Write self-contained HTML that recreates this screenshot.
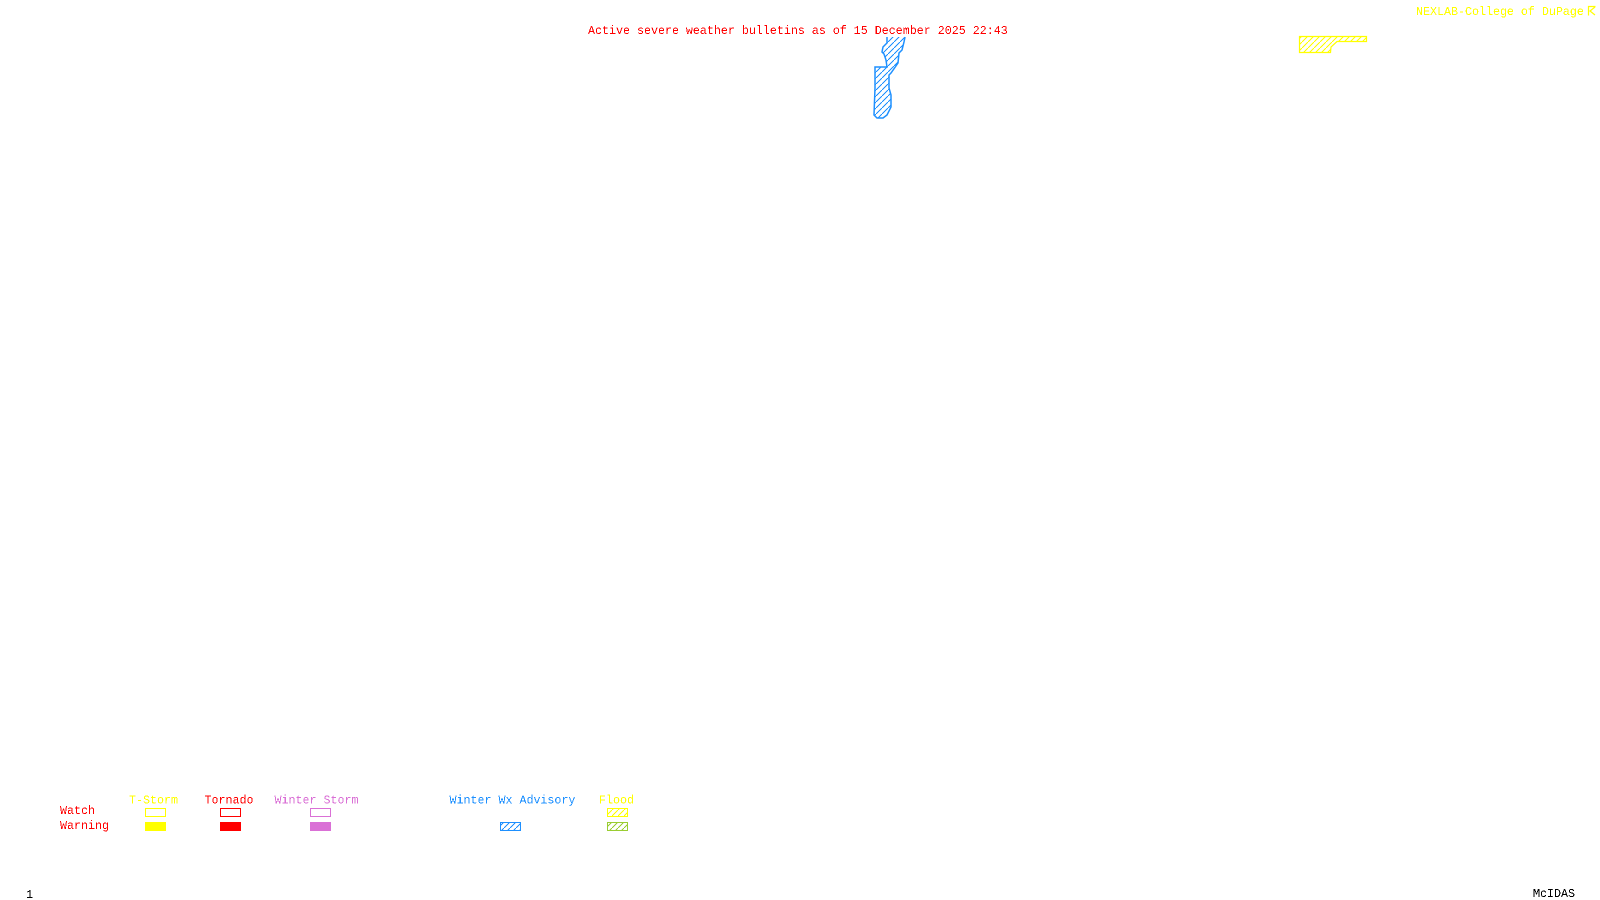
<!DOCTYPE html>
<html>
<head>
<meta charset="utf-8">
<title>Active severe weather bulletins</title>
<style>
html,body{margin:0;padding:0;background:#fff;width:1600px;height:900px;overflow:hidden}
svg{display:block}
text{font-family:"Liberation Mono",monospace;font-size:11.67px;white-space:pre}
</style>
</head>
<body>
<svg width="1600" height="900" viewBox="0 0 1600 900" xmlns="http://www.w3.org/2000/svg">
<defs>
<filter id="crisp" x="0" y="0" width="100%" height="100%" color-interpolation-filters="sRGB">
<feComponentTransfer><feFuncA type="discrete" tableValues="0 0 1 1"/></feComponentTransfer>
</filter>
<pattern id="hb" width="6" height="6" patternUnits="userSpaceOnUse"><path d="M-1,7 L7,-1" stroke="#1e90ff" stroke-width="1.1" shape-rendering="crispEdges" fill="none"/></pattern>
<pattern id="hy" width="6" height="6" patternUnits="userSpaceOnUse"><path d="M-1,7 L7,-1" stroke="#ffff00" stroke-width="1.1" shape-rendering="crispEdges" fill="none"/></pattern>
<pattern id="hg" width="6" height="6" patternUnits="userSpaceOnUse"><path d="M-1,7 L7,-1" stroke="#9acd32" stroke-width="1.1" shape-rendering="crispEdges" fill="none"/></pattern>
</defs>
<rect width="1600" height="900" fill="#fff"/>

<!-- Blue advisory polygon -->
<polygon points="887,37 905,37 904,42 902,50 899,53 898,63 891,73 889,75 889,88 891,95 891,107 887,115 883,118 877,118 874,115 875,88 875,67 887,67 886,60 884,54 882,52 883,47 887,43" fill="url(#hb)"/>
<polyline points="887,37 887,43 883,47 882,52 884,54 886,60 887,67 875,67 875,88 874,115 877,118 883,118 887,115 891,107 891,95 889,88 889,75 891,73 898,63 899,53 902,50 904,42 905,37" fill="none" stroke="#1e90ff" stroke-width="1.5"/>

<!-- Yellow flood polygon -->
<polygon points="1299.5,36.5 1366.5,36.5 1366.5,41.5 1337,41.5 1331,47 1330.5,52.5 1299.5,52.5" fill="url(#hy)" stroke="#ffff00" stroke-width="1.2"/>

<!-- Corner logo glyph -->
<path d="M1588.5,15.5 V6.5 H1595.5 M1595,7 L1590,11 L1595,15" fill="none" stroke="#ffff00" stroke-width="1.2"/>

<g filter="url(#crisp)">
<text x="588" y="34" fill="#ff0000">Active severe weather bulletins as of 15 December 2025 22:43</text>
<text x="1416" y="15" fill="#ffff00">NEXLAB-College of DuPage</text>
<text x="129" y="803.5" fill="#ffff00">T-Storm</text>
<text x="204.5" y="803.5" fill="#ff0000">Tornado</text>
<text x="274.5" y="803.5" fill="#da70d6">Winter Storm</text>
<text x="449.5" y="803.5" fill="#1e90ff">Winter Wx Advisory</text>
<text x="599" y="803.5" fill="#ffff00">Flood</text>
<text x="60" y="814" fill="#ff0000">Watch</text>
<text x="60" y="829" fill="#ff0000">Warning</text>
<text x="26" y="898" fill="#000000">1</text>
<text x="1533" y="897" fill="#000000">McIDAS</text>
</g>

<!-- Legend boxes -->
<g shape-rendering="crispEdges">
<rect x="145.5" y="808.5" width="20" height="8" fill="none" stroke="#ffff00"/>
<rect x="145" y="822" width="21" height="9" fill="#ffff00"/>
<rect x="220.5" y="808.5" width="20" height="8" fill="none" stroke="#ff0000"/>
<rect x="220" y="822" width="21" height="9" fill="#ff0000"/>
<rect x="310.5" y="808.5" width="20" height="8" fill="none" stroke="#da70d6"/>
<rect x="310" y="822" width="21" height="9" fill="#da70d6"/>
<rect x="500.5" y="822.5" width="20" height="8" fill="url(#hb)" stroke="#1e90ff"/>
<rect x="607.5" y="808.5" width="20" height="8" fill="url(#hy)" stroke="#ffff00"/>
<rect x="607.5" y="822.5" width="20" height="8" fill="url(#hg)" stroke="#9acd32"/>
</g>
</svg>
</body>
</html>
